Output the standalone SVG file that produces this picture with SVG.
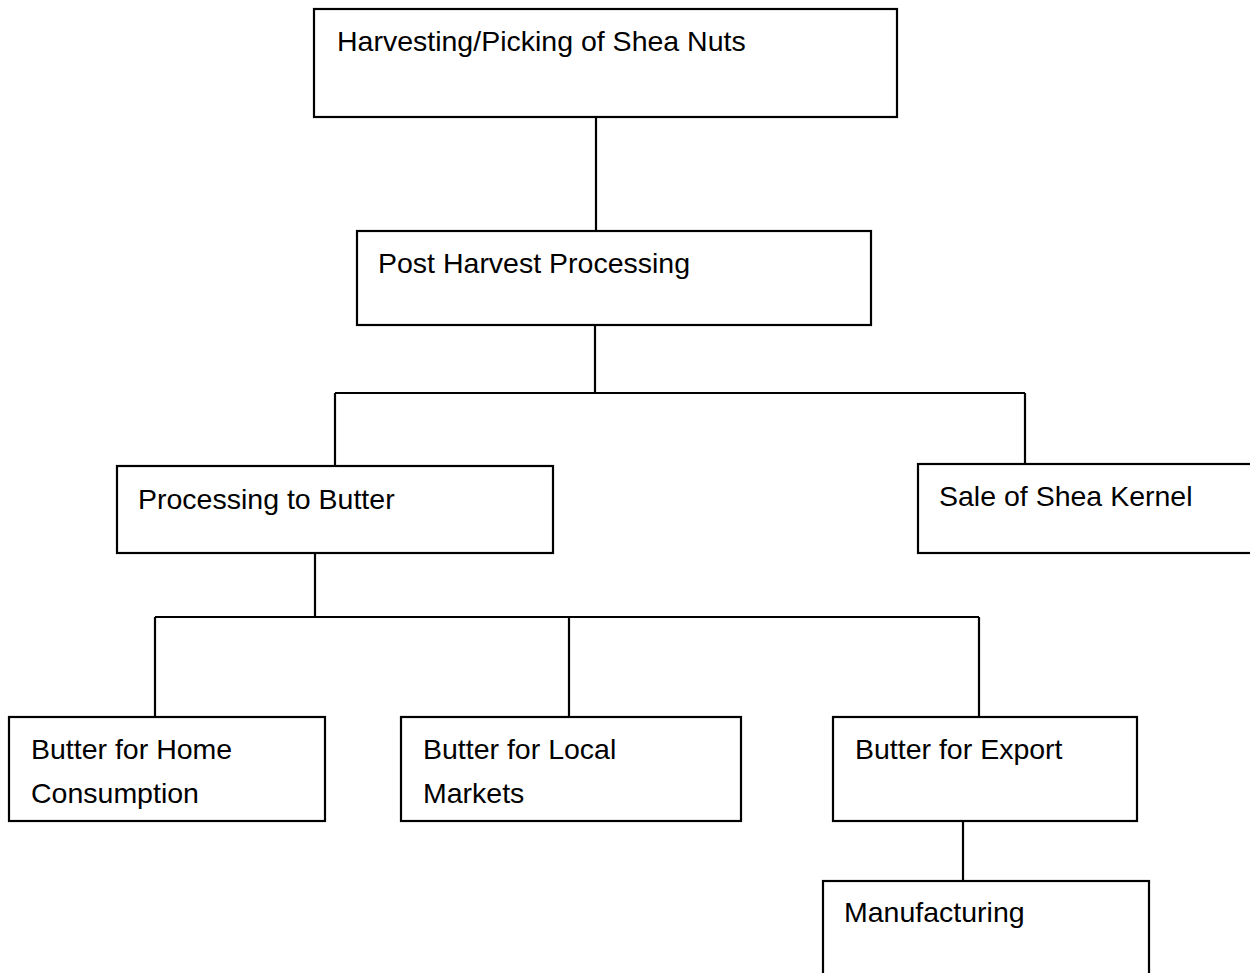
<svg xmlns="http://www.w3.org/2000/svg" width="1250" height="973" viewBox="0 0 1250 973">
<style>
.box{fill:#fff;stroke:#000;stroke-width:2.2}
.lbl{font-family:"Liberation Sans",Arial,sans-serif;font-size:28.5px;fill:#000}
.con{fill:none;stroke:#000;stroke-width:2.2}
</style>
<rect x="0" y="0" width="1250" height="973" fill="#fff"/>
<g id="connectors">
<path class="con" d="M596 117V231"/>
<path class="con" d="M595 325V393M335 393H1025M335 393V466M1025 393V464"/>
<path class="con" d="M315 553V617M155 617H979M155 617V717M569 617V717M979 617V717"/>
<path class="con" d="M963 821V881"/>
</g>
<g id="n-harvest">
<rect class="box" x="314" y="9" width="583" height="108"/>
<text class="lbl" x="337" y="51">Harvesting/Picking of Shea Nuts</text>
</g>
<g id="n-post">
<rect class="box" x="357" y="231" width="514" height="94"/>
<text class="lbl" x="378" y="273">Post Harvest Processing</text>
</g>
<g id="n-butter">
<rect class="box" x="117" y="466" width="436" height="87"/>
<text class="lbl" x="138" y="509">Processing to Butter</text>
</g>
<g id="n-sale">
<rect class="box" x="918" y="464" width="345" height="89"/>
<text class="lbl" x="939" y="506">Sale of Shea Kernel</text>
</g>
<g id="n-home">
<rect class="box" x="9" y="717" width="316" height="104"/>
<text class="lbl" x="31" y="759">Butter for Home</text>
<text class="lbl" x="31" y="803">Consumption</text>
</g>
<g id="n-local">
<rect class="box" x="401" y="717" width="340" height="104"/>
<text class="lbl" x="423" y="759">Butter for Local</text>
<text class="lbl" x="423" y="803">Markets</text>
</g>
<g id="n-export">
<rect class="box" x="833" y="717" width="304" height="104"/>
<text class="lbl" x="855" y="759">Butter for Export</text>
</g>
<g id="n-manufacturing">
<rect class="box" x="823" y="881" width="326" height="110"/>
<text class="lbl" x="844" y="922">Manufacturing</text>
</g>
</svg>
